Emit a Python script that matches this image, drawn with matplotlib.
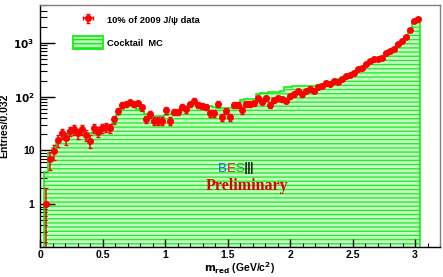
import numpy as np
import matplotlib
matplotlib.use("Agg")
import matplotlib.pyplot as plt
from matplotlib.patches import Patch
from matplotlib.ticker import FixedLocator, FuncFormatter, MultipleLocator, LogLocator, NullFormatter

# ---------------- data ----------------
bin_width = 0.032
# data points (10% of 2009 J/psi data), first bin centre 0.048
data_values = [1.0, 6.9, 9.7, 15.6, 20.7, 16.7, 23, 24.6, 20.7, 24.6,
               19.3, 15.1, 26.4, 22.2, 25.7, 27.5, 26.4, 37.8, 54, 69.8,
               72.8, 79, 72, 75, 63, 38, 47, 36, 36, 36,
               56, 36, 52, 52, 65, 58, 72, 84, 70, 67,
               65, 49, 49, 73, 42, 54, 42, 70, 70, 56,
               73, 73, 75, 93, 81, 93, 70, 87, 93, 90,
               84, 102, 110, 127, 110, 127, 139, 128, 152, 158,
               181, 170, 195, 190, 218, 240, 250, 279, 325, 336,
               398, 460, 500, 500, 537, 640, 715, 790, 950, 1100,
               1300, 1780, 2550, 2850]
# cocktail MC histogram, bins from 0 to 3.04
mc_values = [0, 4, 9, 11, 14, 17, 19, 20, 21, 21,
             21, 21, 21, 22, 23, 24, 25, 27, 33, 45,
             58, 64, 66, 64, 60, 54, 48, 45, 43, 43,
             44, 45, 47, 50, 54, 60, 66, 72, 74, 74,
             72, 69, 66, 63, 61, 61, 61, 62, 70, 75,
             85, 89, 89, 90, 112, 115, 116, 120, 123, 124,
             126, 150, 153, 155, 156, 158, 156, 158, 160, 165,
             172, 180, 190, 200, 212, 226, 242, 262, 290, 318,
             350, 395, 445, 490, 525, 580, 650, 730, 820, 950,
             1100, 1320, 1720, 2450, 2850]
legend_labels = ["10% of 2009 J/\u03c8 data", "Cocktail  MC"]
xtick_values = [0, 0.5, 1, 1.5, 2, 2.5, 3]
ytick_labels = {1: "1", 10: "10", 100: r"$\mathbf{10^{2}}$", 1000: r"$\mathbf{10^{3}}$"}

# ---------------- figure ----------------
W, H = 443, 277
fig = plt.figure(figsize=(W / 100, H / 100), dpi=100)
ax = fig.add_axes([40 / W, 1 - 247 / H, 400 / W, 242 / H])
plt.rcParams['hatch.linewidth'] = 1.0

data = np.array(data_values, dtype=float)
mc = np.array(mc_values, dtype=float)
edges = np.arange(len(mc) + 1) * bin_width
x = 0.048 + bin_width * np.arange(len(data))

base = 0.05
mc_draw = np.where(mc > 0, mc, base)
ax.stairs(mc_draw, edges, baseline=base, fill=True, facecolor="#c6ffc6",
          edgecolor="#2ee82e", hatch="----", linewidth=0, zorder=1)
ax.stairs(mc_draw, edges, baseline=base, fill=False, edgecolor="#00f000",
          linewidth=1.1, zorder=2)

err = np.sqrt(data)
err_lo = np.minimum(err, data - 1e-3)
eb = ax.errorbar(x, data, yerr=[err_lo, err], xerr=bin_width / 2, fmt="o",
                 color="#ff0000", ecolor="#ff0000", markersize=4, elinewidth=1.1,
                 capsize=1.5, capthick=1.0, zorder=3)

ax.set_yscale("log")
ax.set_xlim(0, 3.2)
ax.set_ylim(10 ** -0.8, 10 ** 3.708)

# ticks
ax.xaxis.set_major_locator(FixedLocator(xtick_values))
ax.xaxis.set_minor_locator(MultipleLocator(0.1))
ax.xaxis.set_major_formatter(FuncFormatter(lambda v, p: f"{v:g}"))
ax.yaxis.set_major_locator(FixedLocator(list(ytick_labels.keys())))
ax.yaxis.set_major_formatter(FuncFormatter(lambda v, p: ytick_labels.get(int(round(v)), "")))
ax.yaxis.set_minor_locator(LogLocator(base=10, subs=np.arange(2, 10)))
ax.yaxis.set_minor_formatter(NullFormatter())
ax.tick_params(axis="x", which="major", direction="in", length=6, width=1, pad=2,
               top=False, colors="black")
ax.tick_params(axis="x", which="minor", direction="in", length=3, width=0.8, top=False)
ax.tick_params(axis="y", which="major", direction="in", length=11, width=1, pad=4,
               right=False)
ax.tick_params(axis="y", which="minor", direction="in", length=5, width=0.8, right=False)
for lab in ax.get_xticklabels() + ax.get_yticklabels():
    lab.set_fontweight("bold")
    lab.set_family("Liberation Sans")
    lab.set_size(7.5)

for s in ["left", "bottom"]:
    ax.spines[s].set_color("black")
    ax.spines[s].set_linewidth(1.0)
for s in ["top", "right"]:
    ax.spines[s].set_color("#808080")
    ax.spines[s].set_linewidth(1.0)

ax.set_xlabel(r"$\mathbf{m_{red}}$ (GeV/c$^{\mathbf{2}}$)", fontsize=7.5,
              fontweight="bold", family="Liberation Sans", labelpad=0)
ax.set_ylabel("Entries/0.032", fontsize=7.5, fontweight="bold",
              family="Liberation Sans", labelpad=3)

# legend
mc_handle = Patch(facecolor="#c6ffc6", edgecolor="#00f000", hatch="----", linewidth=1.2)
leg = ax.legend([eb, mc_handle], legend_labels, loc="upper left",
                bbox_to_anchor=(26 / 400, 1 - 2 / 242), frameon=False,
                prop=dict(family="Liberation Sans", weight="bold", size=6.7),
                handlelength=3.3, handleheight=1.9, labelspacing=0.9,
                handletextpad=0.4, borderpad=0.2)

# BESIII / Preliminary watermark
def ftext(px, py, s, **kw):
    fig.text(px / W, 1 - py / H, s, **kw)

logo = dict(family="Liberation Sans", size=9.5, va="center", ha="left")
ftext(218, 169, "B", color="#2060e0", **logo)
ftext(226.5, 169, "E", color="#e02020", **logo)
ftext(235, 169, "S", color="#20a020", **logo)
ftext(243.5, 169, "\u2162", color="black", family="DejaVu Sans", size=10.5,
      va="center", ha="left")
ftext(247, 186, "Preliminary", color="#e00000", family="Liberation Serif",
      weight="bold", size=11.5, va="center", ha="center")

fig.savefig("out.png", dpi=100)
